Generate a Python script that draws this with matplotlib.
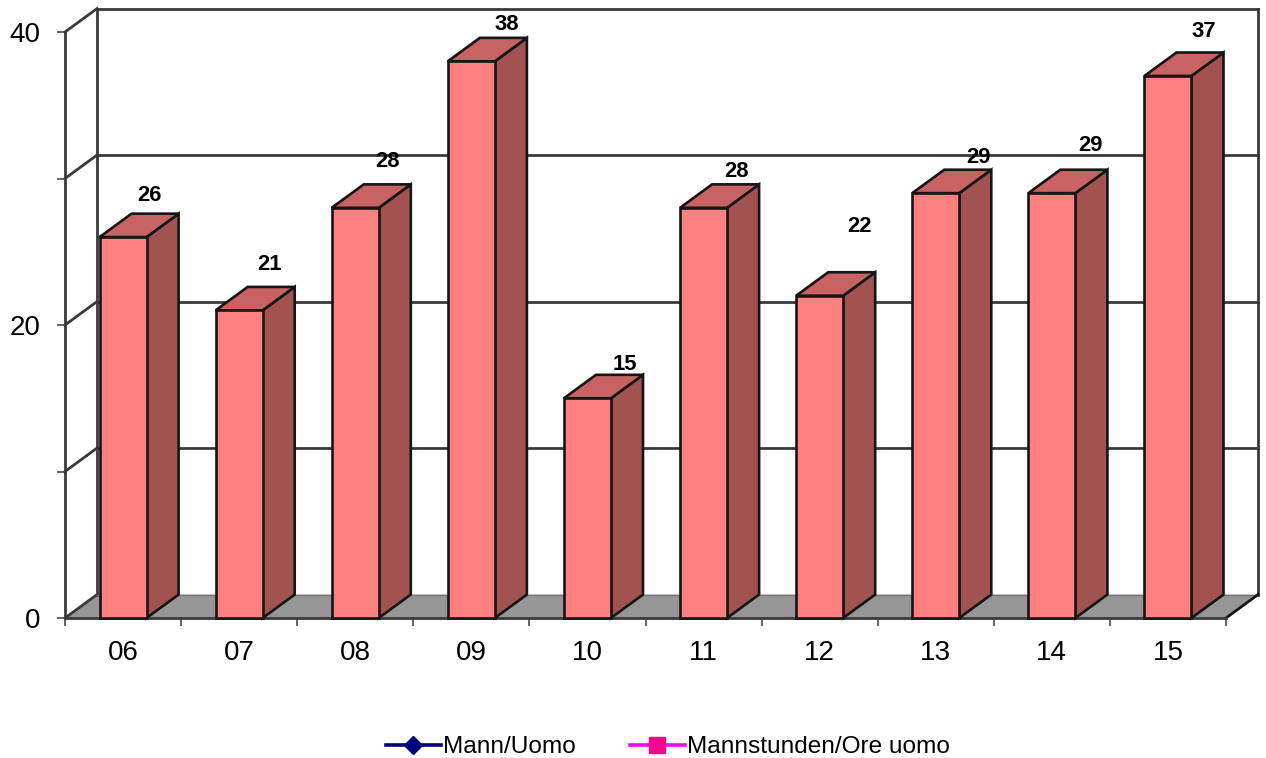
"""3D-look column chart drawn on plain 2D axes."""

import matplotlib
matplotlib.use("Agg")
import matplotlib.pyplot as plt
import numpy as np


categories = ["06", "07", "08", "09", "10", "11", "12", "13", "14", "15"]
values = [26, 21, 28, 38, 15, 28, 22, 29, 29, 37]
y_ticks = [0, 10, 20, 30, 40]
y_tick_labels = ["0", "", "20", "", "40"]
legend_labels = ["Mann/Uomo", "Mannstunden/Ore uomo"]

# where each value label sits relative to the bar's front top edge, in pixels
label_dx = [26, 30, 32, 35, 37, 33, 40, 43, 39, 36]
label_dy = [42, 46, 46, 37, 34, 36, 69, 36, 48, 44]

BAR_WIDTH = 0.405
DEPTH_X = 0.276
DEPTH_Y = 1.6
LINE = "#3a3a3a"
EDGE = "#151515"


def draw_walls(ax, n):
    left, right = -0.5, n - 0.5
    ax.fill(
        [left, left + DEPTH_X, right + DEPTH_X, right],
        [0, DEPTH_Y, DEPTH_Y, 0],
        color="#969696",
        linewidth=0,
        zorder=1,
        clip_on=False,
    )
    line_style = dict(color=LINE, linewidth=2.0, zorder=1.5, clip_on=False)
    top = y_ticks[-1]
    for tick in y_ticks:
        ax.plot([left, left + DEPTH_X], [tick, tick + DEPTH_Y], **line_style)
        if tick > 0:
            ax.plot(
                [left + DEPTH_X, right + DEPTH_X],
                [tick + DEPTH_Y, tick + DEPTH_Y],
                **line_style,
            )
    ax.plot([left + DEPTH_X] * 2, [DEPTH_Y, top + DEPTH_Y], **line_style)
    ax.plot([right + DEPTH_X] * 2, [DEPTH_Y, top + DEPTH_Y], **line_style)
    ax.plot([left + DEPTH_X, right + DEPTH_X], [DEPTH_Y, DEPTH_Y],
            color="#777777", linewidth=1.0, zorder=1.5, clip_on=False)
    ax.plot([right, right + DEPTH_X], [0, DEPTH_Y],
            color=EDGE, linewidth=2.0, zorder=1.5, clip_on=False)


def draw_bar(ax, x, value, zorder):
    x0, x1 = x - BAR_WIDTH / 2, x + BAR_WIDTH / 2
    edge = dict(edgecolor=EDGE, linewidth=1.9, zorder=zorder, clip_on=False)
    ax.fill(
        [x1, x1 + DEPTH_X, x1 + DEPTH_X, x1],
        [0, DEPTH_Y, value + DEPTH_Y, value],
        facecolor="#A35252",
        **edge,
    )
    ax.fill(
        [x0, x1, x1 + DEPTH_X, x0 + DEPTH_X],
        [value, value, value + DEPTH_Y, value + DEPTH_Y],
        facecolor="#C96262",
        **edge,
    )
    bars = ax.bar(x, value, width=BAR_WIDTH, color="#FF8080",
                  edgecolor=EDGE, linewidth=1.9, zorder=zorder)
    for bar in bars:
        bar.set_clip_on(False)


def main():
    plt.rcParams["font.family"] = ["Liberation Sans", "DejaVu Sans"]

    fig = plt.figure(figsize=(12.66, 7.58), dpi=100)
    ax = fig.add_axes([65 / 1266, 1 - 618 / 758, 1161 / 1266, 586 / 758])

    xs = np.arange(len(categories))
    draw_walls(ax, len(categories))
    for i, (x, value) in enumerate(zip(xs, values)):
        draw_bar(ax, x, value, zorder=3 + i * 0.01)
        ax.annotate(
            str(value),
            xy=(x, value),
            xytext=(label_dx[i], label_dy[i]),
            textcoords="offset pixels",
            ha="center",
            va="center",
            fontsize=15.8,
            fontweight="bold",
            color="black",
            zorder=5,
        )

    ax.set_xlim(-0.5, len(categories) - 0.5)
    ax.set_ylim(y_ticks[0], y_ticks[-1])
    ax.set_xticks(np.arange(len(categories) + 1) - 0.5)
    ax.set_xticklabels([])
    ax.set_xticks(xs, labels=categories, minor=True)
    ax.tick_params(axis="x", which="major", length=5.5, width=1.1, color=LINE)
    ax.tick_params(axis="x", which="minor", length=0, pad=15.5, labelsize=20)
    ax.set_yticks(y_ticks, labels=y_tick_labels)
    ax.tick_params(axis="y", length=5.5, width=1.1, color=LINE, pad=12, labelsize=20)

    ax.patch.set_visible(False)
    for side in ("top", "right"):
        ax.spines[side].set_visible(False)
    for side in ("left", "bottom"):
        ax.spines[side].set_color(LINE)
        ax.spines[side].set_linewidth(2.0)
        ax.spines[side].set_zorder(2)

    handles = [
        ax.plot([], [], color="#000080", linewidth=2.6, marker="D",
                markersize=9.5, markerfacecolor="#000080",
                markeredgecolor="#000080", label=legend_labels[0])[0],
        ax.plot([], [], color="#FF00FF", linewidth=2.6, marker="s",
                markersize=11.5, markerfacecolor="#F5098C",
                markeredgecolor="#F5098C", label=legend_labels[1])[0],
    ]
    fig.legend(
        handles=handles,
        loc="center",
        bbox_to_anchor=(668 / 1266, 1 - 747 / 758),
        ncol=2,
        frameon=False,
        fontsize=17.6,
        handlelength=2.25,
        handletextpad=0.1,
        columnspacing=2.2,
        borderpad=0,
    )

    fig.savefig("out.png", dpi=100)
    plt.close(fig)


if __name__ == "__main__":
    main()
